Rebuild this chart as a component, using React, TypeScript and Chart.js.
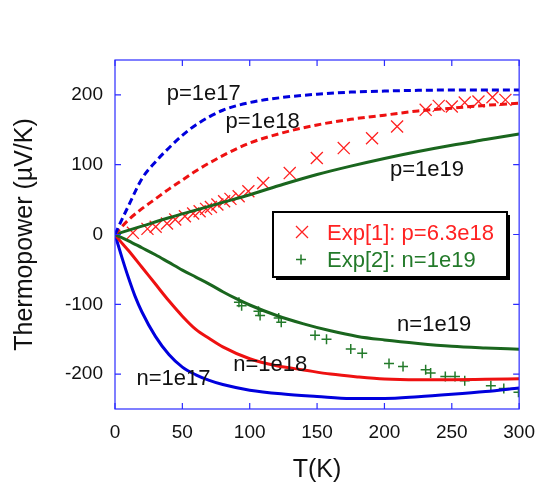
import React, { useEffect, useRef } from "react";
import { Chart, registerables } from "chart.js";

Chart.register(...registerables);

// ---- axes ----
const X_TICKS = [0, 50, 100, 150, 200, 250, 300];
const Y_TICKS = [-200, -100, 0, 100, 200];
const X_MIN = 0;
const X_MAX = 300;
const Y_MIN = -250;
const Y_MAX = 250;
const X_TITLE = "T(K)";
const Y_TITLE = "Thermopower (\u00B5V/K)";

// ---- theory curves (T in K, S in uV/K) ----
const tP17 = [0, 5, 10, 20, 30, 40, 50, 60, 80, 100, 125, 150, 175, 200, 225, 250, 275, 300];
const sP17 = [0, 21, 41, 80, 104, 124, 142, 157, 178, 189, 196.5, 201, 204, 205.5, 206.5, 207, 207, 207];

const tP18 = [0, 5, 10, 20, 30, 40, 50, 60, 80, 100, 125, 150, 175, 200, 225, 250, 275, 300];
const sP18 = [0, 11, 21, 37, 51, 65, 78, 91, 113, 131, 146, 157, 165, 171, 177, 181, 185, 188];

const tP19 = [0, 20, 40, 60, 80, 100, 125, 150, 175, 200, 225, 250, 275, 300];
const sP19 = [0, 12, 24, 35, 46, 57, 72, 86, 98, 109, 119, 128, 136, 144];

const tN19 = [0, 10, 20, 30, 40, 50, 60, 70, 80, 90, 100, 120, 140, 160, 180, 200, 225, 250, 275, 300];
const sN19 = [0, -9, -19, -29, -40, -51, -61, -71, -82, -92, -101, -116, -128, -138, -146, -151, -156, -160, -162.5, -164.5];

const tN18 = [0, 5, 10, 20, 30, 40, 50, 60, 70, 80, 100, 120, 140, 160, 180, 200, 225, 250, 275, 300];
const sN18 = [0, -12, -23, -47, -71, -95, -117, -136, -149, -161, -178, -188, -194, -200, -204, -207, -208, -208, -207.5, -206.5];

const tN17 = [0, 5, 10, 15, 20, 30, 40, 50, 60, 70, 80, 100, 125, 150, 175, 200, 225, 250, 275, 300];
const sN17 = [0, -32, -62, -89, -111, -146, -172, -190, -201, -209, -215, -223, -228.5, -232, -235, -235, -232.5, -229, -225, -220];

// ---- experiments ----
const expT1 = [13.3, 24.1, 30.2, 38.6, 44.7, 51.9, 58, 62.8, 67.6, 71.2, 76, 81, 85.7, 91.8, 99, 110, 129.7, 149.8, 169.8, 190.8, 209.4, 230.6, 240.3, 250, 259.6, 269.8, 280.2, 289.8];
const expS1 = [2.4, 8.1, 11, 15.7, 21.4, 26.2, 30, 33.3, 36.7, 39.5, 42.9, 47.6, 51, 54.8, 62, 73.8, 88, 109.5, 123.8, 138, 154.8, 178.6, 184.3, 183.3, 189, 190.5, 196.7, 192.9];

const expT2 = [92, 94, 106.5, 107.7, 121.5, 123.4, 148.5, 157, 175, 183.5, 203.4, 213.8, 230.6, 234.3, 245.2, 252.4, 259.6, 279, 288.6, 299.5];
const expS2 = [-97, -101.9, -110, -116, -119.5, -125.7, -144.3, -150, -164, -170, -184.8, -189, -193.8, -198.6, -203.3, -203.3, -209.5, -216.7, -220.5, -226];

const EXP_LABELS = ["Exp[1]: p=6.3e18", "Exp[2]: n=1e19"];

// ---- curve labels ----
const curveLabels = ["p=1e17", "p=1e18", "p=1e19", "n=1e19", "n=1e18", "n=1e17"];
const curveLabelT = [38.4, 82.1, 204.1, 209.4, 87.7, 15.9];
const curveLabelS = [192.9, 152.4, 83.3, -138, -195.7, -216.2];

// ---- styles ----
const BLUE = "#0000dd";
const RED = "#ee1111";
const GREEN = "#1a661e";
const RED_MARK = "#ff2222";
const GREEN_MARK = "#237a2a";
const AXIS_COLOR = "#2b2bff";
const FONT = '"Liberation Sans", Arial, Helvetica, sans-serif';

const pts = (t: number[], s: number[]) => t.map((x, i) => ({ x, y: s[i] }));

const decorPlugin = {
  id: "decor",
  afterDatasetsDraw(chart: any) {
    const { ctx, chartArea: a, scales } = chart;
    const xs = scales.x;
    const ys = scales.y;
    ctx.save();

    // frame
    ctx.strokeStyle = AXIS_COLOR;
    ctx.lineWidth = 1.2;
    ctx.strokeRect(a.left, a.top, a.right - a.left, a.bottom - a.top);
    // inward ticks
    const tl = 6;
    ctx.beginPath();
    for (const v of X_TICKS) {
      const px = xs.getPixelForValue(v);
      ctx.moveTo(px, a.bottom);
      ctx.lineTo(px, a.bottom - tl);
      ctx.moveTo(px, a.top);
      ctx.lineTo(px, a.top + tl);
    }
    for (const v of Y_TICKS) {
      const py = ys.getPixelForValue(v);
      ctx.moveTo(a.left, py);
      ctx.lineTo(a.left + tl, py);
      ctx.moveTo(a.right, py);
      ctx.lineTo(a.right - tl, py);
    }
    ctx.stroke();

    // curve labels
    ctx.fillStyle = "#111";
    ctx.font = `22px ${FONT}`;
    ctx.textAlign = "left";
    ctx.textBaseline = "alphabetic";
    curveLabels.forEach((txt, i) => {
      ctx.fillText(txt, xs.getPixelForValue(curveLabelT[i]), ys.getPixelForValue(curveLabelS[i]));
    });

    // legend box
    const L = a.left + 158;
    const T = a.top + 152;
    const W = 234;
    const H = 65;
    ctx.fillStyle = "#000";
    ctx.fillRect(L + 3, T + 3, W, H);
    ctx.fillStyle = "#fff";
    ctx.fillRect(L, T, W, H);
    ctx.strokeStyle = "#000";
    ctx.lineWidth = 2;
    ctx.strokeRect(L, T, W, H);

    const ds1 = chart.data.datasets[6];
    const ds2 = chart.data.datasets[7];
    // X marker
    let cx = L + 29;
    let cy = T + 20;
    ctx.strokeStyle = RED_MARK;
    ctx.lineWidth = 1.3;
    ctx.beginPath();
    ctx.moveTo(cx - 6, cy - 6);
    ctx.lineTo(cx + 6, cy + 6);
    ctx.moveTo(cx + 6, cy - 6);
    ctx.lineTo(cx - 6, cy + 6);
    ctx.stroke();
    // + marker
    cx = L + 28;
    cy = T + 47.5;
    ctx.strokeStyle = GREEN_MARK;
    ctx.lineWidth = 1.5;
    ctx.beginPath();
    ctx.moveTo(cx - 5, cy);
    ctx.lineTo(cx + 5, cy);
    ctx.moveTo(cx, cy - 5);
    ctx.lineTo(cx, cy + 5);
    ctx.stroke();

    ctx.font = `22px ${FONT}`;
    ctx.fillStyle = RED_MARK;
    ctx.fillText(ds1.label, L + 54, T + 27.6);
    ctx.fillStyle = GREEN_MARK;
    ctx.fillText(ds2.label, L + 54, T + 55);

    ctx.restore();
  },
};

export default function App() {
  const ref = useRef<HTMLCanvasElement | null>(null);

  useEffect(() => {
    if (!ref.current) return;
    const curve = (label: string, t: number[], s: number[], color: string, dash: number[]) => ({
      type: "line" as const,
      label,
      data: pts(t, s),
      borderColor: color,
      backgroundColor: color,
      borderWidth: 3,
      borderDash: dash,
      pointRadius: 0,
      showLine: true,
      fill: false,
      cubicInterpolationMode: "monotone" as const,
    });
    const chart = new Chart(ref.current, {
      type: "scatter",
      data: {
        datasets: [
          curve("p=1e17", tP17, sP17, BLUE, [7, 4]),
          curve("p=1e18", tP18, sP18, RED, [7, 4]),
          curve("p=1e19", tP19, sP19, GREEN, []),
          curve("n=1e19", tN19, sN19, GREEN, []),
          curve("n=1e18", tN18, sN18, RED, []),
          curve("n=1e17", tN17, sN17, BLUE, []),
          {
            label: EXP_LABELS[0],
            data: pts(expT1, expS1),
            pointStyle: "crossRot",
            pointRadius: 8.5,
            pointBorderColor: RED_MARK,
            borderColor: RED_MARK,
            pointBorderWidth: 1.3,
            showLine: false,
          },
          {
            label: EXP_LABELS[1],
            data: pts(expT2, expS2),
            pointStyle: "cross",
            pointRadius: 5,
            pointBorderColor: GREEN_MARK,
            borderColor: GREEN_MARK,
            pointBorderWidth: 1.5,
            showLine: false,
          },
        ],
      },
      options: {
        responsive: false,
        animation: false,
        events: [],
        layout: { padding: { left: 10, top: 60, right: 18, bottom: 0 } },
        plugins: {
          legend: { display: false },
          tooltip: { enabled: false },
        },
        scales: {
          x: {
            type: "linear",
            position: "bottom",
            min: X_MIN,
            max: X_MAX,
            afterBuildTicks: (s: any) => {
              s.ticks = X_TICKS.map((value) => ({ value }));
            },
            afterFit: (s: any) => {
              s.height = 77;
            },
            grid: { display: false, drawTicks: false },
            border: { display: false },
            ticks: {
              color: "#111",
              padding: 12,
              maxRotation: 0,
              autoSkip: false,
              font: { family: FONT, size: 19 },
            },
            title: {
              display: true,
              text: X_TITLE,
              color: "#111",
              font: { family: FONT, size: 25 },
              padding: { top: 0, bottom: 1 },
            },
          },
          y: {
            type: "linear",
            position: "left",
            min: Y_MIN,
            max: Y_MAX,
            afterBuildTicks: (s: any) => {
              s.ticks = Y_TICKS.map((value) => ({ value }));
            },
            afterFit: (s: any) => {
              s.width = 105;
            },
            grid: { display: false, drawTicks: false },
            border: { display: false },
            ticks: {
              color: "#111",
              padding: 12,
              autoSkip: false,
              font: { family: FONT, size: 19 },
            },
            title: {
              display: true,
              text: Y_TITLE,
              color: "#111",
              font: { family: FONT, size: 25 },
              padding: { top: 0, bottom: 0 },
            },
          },
        },
      },
      plugins: [decorPlugin],
    } as any);
    return () => chart.destroy();
  }, []);

  return (
    <div style={{ position: "absolute", left: 0, top: 0, width: 547, height: 486, background: "#fff" }}>
      <canvas ref={ref} width={547} height={486} style={{ display: "block" }} />
    </div>
  );
}
